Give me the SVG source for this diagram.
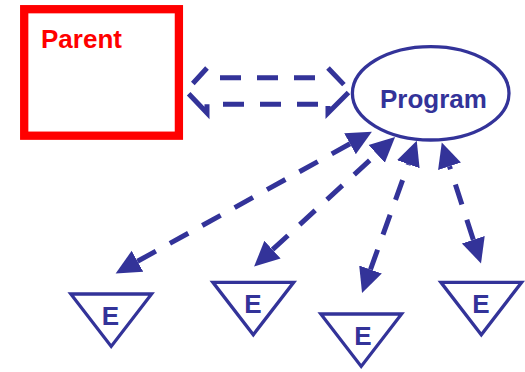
<svg xmlns="http://www.w3.org/2000/svg" width="525" height="372" viewBox="0 0 525 372">
<style>
.lbl{font-family:"Liberation Sans",Arial,sans-serif;font-weight:bold;font-size:26px;}
.e{fill:#333399;text-anchor:middle;}
.tri{fill:#fff;stroke:#333399;stroke-width:3.3;stroke-linejoin:miter;}
.conn{fill:none;stroke:#333399;stroke-width:5;stroke-dasharray:21 16;}
.blk{fill:none;stroke:#333399;stroke-width:5;stroke-linejoin:miter;}
</style>
<defs>
<marker id="ah" viewBox="0 -13 26 26" refX="0" refY="0" markerWidth="26" markerHeight="26" markerUnits="userSpaceOnUse" orient="auto-start-reverse">
<path d="M0,-12 L25,0 L0,12 Z" fill="#333399"/>
</marker>
</defs>
<rect width="525" height="372" fill="#fff"/>
<g id="parent">
<rect x="24.2" y="9.2" width="154.7" height="126.5" fill="none" stroke="#ff0000" stroke-width="8.3"/>
<text class="lbl" x="41" y="48.3" fill="#ff0000">Parent</text>
</g>
<g id="program">
<ellipse cx="430.7" cy="93.3" rx="78.3" ry="46.7" fill="none" stroke="#333399" stroke-width="3.3"/>
<text class="lbl" x="433.5" y="108" fill="#333399" text-anchor="middle">Program</text>
</g>
<g id="e1">
<polygon class="tri" points="70.8,294 151.6,294 111.2,346.4"/>
<text class="lbl e" x="110.5" y="325">E</text>
</g>
<g id="e2">
<polygon class="tri" points="212.9,282.3 293.7,282.3 253.3,334.7"/>
<text class="lbl e" x="252.8" y="313.3">E</text>
</g>
<g id="e3">
<polygon class="tri" points="320.8,314 401.6,314 361.2,366.4"/>
<text class="lbl e" x="363" y="345">E</text>
</g>
<g id="e4">
<polygon class="tri" points="440.9,282.3 521.7,282.3 481.3,334.7"/>
<text class="lbl e" x="481" y="313.3">E</text>
</g>
<g id="connectors">
<g id="parent-program">
<path class="blk" stroke-dasharray="21 16" d="M220,77.7 L317,77.7 M223,104.3 L320,104.3"/>
<path class="blk" stroke-dasharray="21 14 40" d="M207,68 L186,91 L207,113 L207,104.3"/>
<path class="blk" stroke-dasharray="23 11 40" d="M328,68 L350,91 L328,113 L328,106"/>
</g>
<line class="conn" x1="137.5" y1="261.3" x2="350" y2="143.8" marker-start="url(#ah)" marker-end="url(#ah)"/>
<line class="conn" x1="272.5" y1="249.7" x2="376.7" y2="153.9" marker-start="url(#ah)" marker-end="url(#ah)"/>
<line class="conn" x1="370.5" y1="269.5" x2="408.3" y2="164.2" marker-start="url(#ah)" marker-end="url(#ah)"/>
<line class="conn" x1="473.3" y1="239.7" x2="449.5" y2="166.3" marker-start="url(#ah)" marker-end="url(#ah)"/>
</g>
</svg>
